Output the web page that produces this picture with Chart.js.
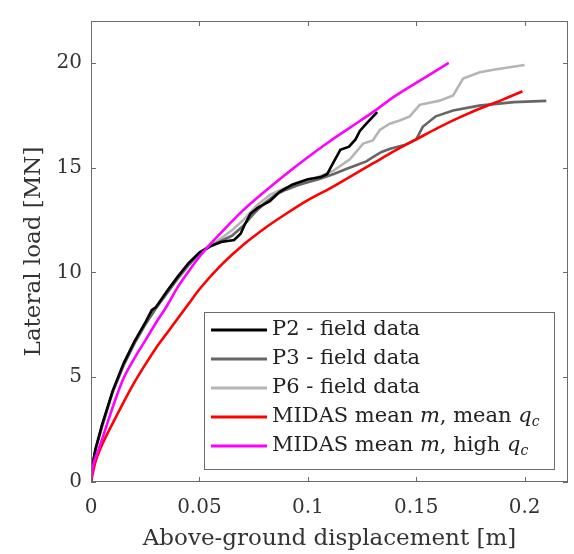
<!DOCTYPE html>
<html>
<head>
<meta charset="utf-8">
<script src="https://cdn.jsdelivr.net/npm/chart.js@4.4.0/dist/chart.umd.min.js"></script>
<style>
html, body { margin: 0; padding: 0; background: #fff; }
#wrap { position: relative; width: 574px; height: 554px; }
</style>
</head>
<body>
<div id="wrap"><canvas id="chartLoad" width="574" height="554"></canvas></div>
<script>
// field data (displacement [m], load [MN])
const p2X = [0, 0.0005, 0.002, 0.005, 0.01, 0.015, 0.02, 0.025, 0.028, 0.03, 0.035, 0.04, 0.045, 0.05, 0.055, 0.06, 0.066, 0.069, 0.071, 0.0735, 0.077, 0.0825, 0.087, 0.093, 0.1, 0.106, 0.109, 0.111, 0.115, 0.119, 0.122, 0.124, 0.127, 0.132];
const p2Y = [0, 0.7, 1.55, 2.7, 4.35, 5.65, 6.7, 7.6, 8.2, 8.35, 9.1, 9.8, 10.45, 10.95, 11.25, 11.45, 11.55, 11.85, 12.3, 12.8, 13.1, 13.4, 13.85, 14.2, 14.45, 14.55, 14.7, 15.1, 15.85, 16.0, 16.35, 16.75, 17.1, 17.65];

const p3X = [0, 0.0005, 0.002, 0.005, 0.01, 0.015, 0.02, 0.025, 0.03, 0.035, 0.04, 0.045, 0.05, 0.055, 0.06, 0.065, 0.07, 0.075, 0.08, 0.085, 0.09, 0.095, 0.1, 0.105, 0.112, 0.118, 0.122, 0.127, 0.13, 0.134, 0.138, 0.145, 0.15, 0.153, 0.159, 0.167, 0.179, 0.195, 0.21];
const p3Y = [0, 0.6, 1.5, 2.6, 4.3, 5.55, 6.6, 7.5, 8.3, 9.0, 9.7, 10.35, 10.9, 11.25, 11.5, 11.75, 12.2, 12.8, 13.3, 13.7, 13.95, 14.15, 14.3, 14.45, 14.7, 14.95, 15.1, 15.3, 15.5, 15.75, 15.9, 16.1, 16.35, 16.95, 17.45, 17.73, 17.96, 18.13, 18.19];

const p6X = [0, 0.0005, 0.002, 0.005, 0.01, 0.015, 0.02, 0.025, 0.03, 0.035, 0.04, 0.045, 0.05, 0.055, 0.061, 0.066, 0.0702, 0.0764, 0.0825, 0.09, 0.095, 0.1, 0.106, 0.1117, 0.1194, 0.1255, 0.13, 0.1332, 0.1378, 0.1424, 0.147, 0.1516, 0.1608, 0.167, 0.1716, 0.1793, 0.187, 0.2];
const p6Y = [0, 0.65, 1.5, 2.65, 4.3, 5.6, 6.65, 7.55, 8.3, 9.05, 9.75, 10.4, 10.95, 11.3, 11.7, 12.1, 12.5, 13.2, 13.7, 14.05, 14.2, 14.35, 14.6, 14.85, 15.4, 16.15, 16.3, 16.8, 17.1, 17.25, 17.45, 18.0, 18.2, 18.45, 19.25, 19.55, 19.7, 19.9];

// MIDAS predictions
const meanQcX = [0, 0.002, 0.005, 0.008, 0.011, 0.015, 0.02, 0.025, 0.03, 0.035, 0.04, 0.045, 0.05, 0.06, 0.07, 0.08, 0.09, 0.1, 0.11, 0.12, 0.13, 0.14, 0.15, 0.16, 0.17, 0.18, 0.19, 0.199];
const meanQcY = [0, 0.95, 1.75, 2.4, 3.0, 3.8, 4.75, 5.6, 6.4, 7.1, 7.8, 8.5, 9.2, 10.35, 11.3, 12.1, 12.8, 13.45, 14.0, 14.6, 15.2, 15.8, 16.35, 16.9, 17.4, 17.85, 18.25, 18.65];

const highQcX = [0, 0.001, 0.003, 0.005, 0.008, 0.012, 0.015, 0.02, 0.025, 0.03, 0.035, 0.04, 0.045, 0.05, 0.055, 0.06, 0.07, 0.08, 0.09, 0.1, 0.11, 0.12, 0.13, 0.14, 0.15, 0.165];
const highQcY = [0, 0.8, 1.4, 2.0, 2.95, 4.15, 4.95, 5.9, 6.75, 7.6, 8.4, 9.3, 10.05, 10.75, 11.35, 11.9, 12.95, 13.85, 14.7, 15.5, 16.25, 16.95, 17.65, 18.4, 19.05, 20.0];

const xTicks = [0, 0.05, 0.1, 0.15, 0.2];
const yTicks = [0, 5, 10, 15, 20];

// legend text, split so m and q_c can be set in italics
const legendText = [
    [{ t: 'P2 - field data' }],
    [{ t: 'P3 - field data' }],
    [{ t: 'P6 - field data' }],
    [{ t: 'MIDAS mean ' }, { t: 'm', it: true }, { t: ', mean ' }, { t: 'q', it: true }, { t: 'c', it: true, sub: true }],
    [{ t: 'MIDAS mean ' }, { t: 'm', it: true }, { t: ', high ' }, { t: 'q', it: true }, { t: 'c', it: true, sub: true }]
];

const FONT = '"DejaVu Serif", serif';

function toPoints(xs, ys) {
    return xs.map((x, i) => ({ x: x, y: ys[i] }));
}

// box round the plot with small inward ticks
const frameTicks = {
    id: 'frameTicks',
    afterDatasetsDraw(chart) {
        const { ctx, chartArea: a, scales } = chart;
        ctx.save();
        ctx.strokeStyle = '#6b6b6b';
        ctx.lineWidth = 1;
        ctx.strokeRect(a.left + 0.5, a.top + 0.5, a.right - a.left - 1, a.bottom - a.top - 1);
        ctx.beginPath();
        scales.x.ticks.forEach(t => {
            const px = Math.round(scales.x.getPixelForValue(t.value)) + 0.5;
            ctx.moveTo(px, a.bottom); ctx.lineTo(px, a.bottom - 5);
            ctx.moveTo(px, a.top); ctx.lineTo(px, a.top + 5);
        });
        scales.y.ticks.forEach(t => {
            const py = Math.round(scales.y.getPixelForValue(t.value)) + 0.5;
            ctx.moveTo(a.left, py); ctx.lineTo(a.left + 5, py);
            ctx.moveTo(a.right, py); ctx.lineTo(a.right - 5, py);
        });
        ctx.stroke();
        ctx.restore();
    }
};

const legendBox = {
    id: 'legendBox',
    afterDraw(chart, args, o) {
        const ctx = chart.ctx;
        ctx.save();
        ctx.fillStyle = '#fff';
        ctx.fillRect(o.left, o.top, o.width, o.height);
        ctx.strokeStyle = '#6b6b6b';
        ctx.lineWidth = 1;
        ctx.strokeRect(o.left + 0.5, o.top + 0.5, o.width, o.height);
        ctx.textBaseline = 'middle';
        chart.data.datasets.forEach((ds, i) => {
            const y = o.top + o.firstRow + i * o.rowGap;
            ctx.strokeStyle = ds.borderColor;
            ctx.lineWidth = 3;
            ctx.beginPath();
            ctx.moveTo(o.left + 7, y);
            ctx.lineTo(o.left + 63, y);
            ctx.stroke();
            let x = o.left + 68;
            ctx.fillStyle = '#222';
            legendText[i].forEach(seg => {
                const size = seg.sub ? 14 : o.fontSize;
                ctx.font = (seg.it ? 'italic ' : '') + size + 'px ' + FONT;
                ctx.fillText(seg.t, x, y + (seg.sub ? 5 : 0));
                x += ctx.measureText(seg.t).width;
            });
        });
        ctx.restore();
    }
};

const ctx = document.getElementById('chartLoad').getContext('2d');
new Chart(ctx, {
    type: 'scatter',
    data: {
        datasets: [
            { label: 'P2 - field data', data: toPoints(p2X, p2Y), borderColor: '#000000', order: 1 },
            { label: 'P3 - field data', data: toPoints(p3X, p3Y), borderColor: '#666666', order: 3 },
            { label: 'P6 - field data', data: toPoints(p6X, p6Y), borderColor: '#b5b5b5', order: 4 },
            { label: 'MIDAS mean m, mean qc', data: toPoints(meanQcX, meanQcY), borderColor: '#ff0000', order: 2, cubicInterpolationMode: 'monotone' },
            { label: 'MIDAS mean m, high qc', data: toPoints(highQcX, highQcY), borderColor: '#ff00ff', order: 0, cubicInterpolationMode: 'monotone' }
        ].map(d => Object.assign({ showLine: true, pointRadius: 0, borderWidth: 2.6, fill: false }, d))
    },
    options: {
        responsive: false,
        animation: false,
        events: [],
        layout: { padding: { left: 0, right: 6, top: 7, bottom: 0 } },
        plugins: {
            legend: { display: false },
            tooltip: { enabled: false },
            legendBox: { left: 204, top: 312, width: 350, height: 157, firstRow: 18, rowGap: 29, fontSize: 21 }
        },
        scales: {
            x: {
                type: 'linear', min: 0, max: 0.22,
                afterBuildTicks: s => { s.ticks = xTicks.map(v => ({ value: v })); },
                afterFit: s => { s.height = 72; },
                grid: { display: false, drawTicks: false },
                border: { display: false },
                ticks: { padding: 14, color: '#333', font: { family: FONT, size: 20 }, callback: v => String(v) },
                title: { display: true, text: 'Above-ground displacement [m]', color: '#333', font: { family: FONT, size: 23 }, padding: { top: 0, bottom: 1 } }
            },
            y: {
                type: 'linear', min: 0, max: 22,
                afterBuildTicks: s => { s.ticks = yTicks.map(v => ({ value: v })); },
                afterFit: s => { s.width = 91; },
                grid: { display: false, drawTicks: false },
                border: { display: false },
                ticks: { padding: 9, color: '#333', font: { family: FONT, size: 20 }, callback: v => String(v) },
                title: { display: true, text: 'Lateral load [MN]', color: '#333', font: { family: FONT, size: 23 }, padding: { top: 20, bottom: 0 } }
            }
        }
    },
    plugins: [frameTicks, legendBox]
});
</script>
</body>
</html>
